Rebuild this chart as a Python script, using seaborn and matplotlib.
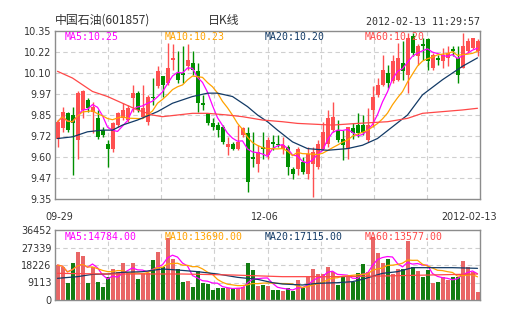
import numpy as np
import pandas as pd
import matplotlib
matplotlib.use("Agg")
import matplotlib.pyplot as plt
import seaborn as sns

# ---------------- data ----------------
opens = [9.71, 9.77, 9.86, 9.85, 9.70, 9.88, 9.94, 9.87, 9.83, 9.76,
         9.68, 9.65, 9.79, 9.83, 9.82, 9.95, 9.98, 9.84, 9.81, 9.96,
         10.02, 10.08, 10.04, 10.18, 10.10, 10.10, 10.14, 10.16, 10.11, 9.92,
         9.86, 9.80, 9.79, 9.78, 9.66, 9.68, 9.65, 9.73, 9.74, 9.60,
         9.56, 9.66, 9.61, 9.69, 9.68, 9.65, 9.66, 9.53, 9.53, 9.57,
         9.50, 9.56, 9.54, 9.65, 9.68, 9.76, 9.76, 9.71, 9.65, 9.77,
         9.79, 9.79, 9.70, 9.88, 9.97, 10.03, 10.10, 10.05, 10.06, 10.16,
         10.09, 10.32, 10.20, 10.27, 10.30, 10.13, 10.19, 10.17, 10.19, 10.24,
         10.19, 10.13, 10.23, 10.25, 10.23]
closes = [9.81, 9.87, 9.76, 9.80, 9.98, 9.99, 9.89, 9.90, 9.72, 9.73,
          9.65, 9.80, 9.86, 9.88, 9.89, 9.98, 9.88, 9.89, 9.96, 9.95,
          10.11, 10.03, 10.13, 10.19, 10.06, 10.09, 10.18, 10.12, 9.92, 9.91,
          9.80, 9.78, 9.76, 9.69, 9.68, 9.65, 9.69, 9.77, 9.45, 9.59,
          9.63, 9.65, 9.70, 9.68, 9.67, 9.67, 9.54, 9.50, 9.65, 9.51,
          9.62, 9.63, 9.68, 9.75, 9.83, 9.84, 9.70, 9.67, 9.78, 9.74,
          9.74, 9.74, 9.79, 9.96, 10.03, 10.12, 10.04, 10.17, 10.19, 10.11,
          10.31, 10.22, 10.26, 10.26, 10.17, 10.21, 10.18, 10.21, 10.22, 10.23,
          10.09, 10.26, 10.29, 10.31, 10.29]
highs = [9.82, 9.90, 9.87, 9.90, 9.99, 10.00, 9.95, 9.93, 9.88, 9.78,
         9.70, 9.81, 9.87, 9.92, 9.91, 10.03, 9.99, 10.03, 9.97, 10.07,
         10.14, 10.08, 10.28, 10.27, 10.23, 10.26, 10.27, 10.23, 10.16, 9.97,
         9.86, 9.83, 9.81, 9.79, 9.72, 9.69, 9.79, 9.78, 9.78, 9.75,
         9.67, 9.75, 9.72, 9.73, 9.73, 9.72, 9.67, 9.54, 9.66, 9.60,
         9.66, 9.66, 9.70, 9.81, 9.88, 9.93, 9.82, 9.76, 9.78, 9.80,
         9.86, 9.85, 9.89, 10.02, 10.07, 10.21, 10.15, 10.21, 10.28, 10.29,
         10.34, 10.34, 10.27, 10.31, 10.31, 10.22, 10.21, 10.25, 10.26, 10.26,
         10.26, 10.34, 10.31, 10.31, 10.30]
lows = [9.66, 9.75, 9.75, 9.49, 9.59, 9.83, 9.87, 9.74, 9.71, 9.72,
        9.54, 9.63, 9.78, 9.82, 9.81, 9.87, 9.87, 9.83, 9.79, 9.91,
        10.01, 9.96, 10.03, 10.12, 10.04, 10.04, 10.12, 10.09, 9.87, 9.88,
        9.79, 9.76, 9.72, 9.68, 9.61, 9.64, 9.64, 9.72, 9.39, 9.54,
        9.51, 9.59, 9.59, 9.64, 9.66, 9.62, 9.49, 9.47, 9.49, 9.50,
        9.47, 9.36, 9.53, 9.64, 9.66, 9.75, 9.69, 9.58, 9.59, 9.71,
        9.72, 9.73, 9.69, 9.78, 9.96, 10.02, 10.01, 10.04, 10.05, 10.06,
        9.98, 10.20, 10.15, 10.18, 10.12, 10.12, 10.15, 10.13, 10.14, 10.20,
        10.04, 10.13, 10.22, 10.24, 10.20]
volumes = [18226, 17011, 8679, 19441, 25169, 23086, 8679, 17358, 9547, 6943,
           12151, 16143, 14754, 19094, 14234, 19441, 10936, 14234, 14234, 20830,
           25169, 17358, 32112, 21177, 15969, 9547, 9894, 6943, 15101, 8679,
           8332, 5207, 6422, 6075, 6075, 6075, 6075, 6943, 19094, 15622,
           7464, 7811, 7464, 5207, 5207, 4687, 6075, 4860, 10415, 6075,
           11803, 16143, 13366, 13366, 17358, 14754, 7811, 12498, 12151, 9547,
           14234, 18747, 14754, 32980, 24648, 19441, 21350, 13539, 15969, 15969,
           30897, 17011, 15101, 12151, 15622, 9026, 9547, 11803, 10415, 11803,
           11803, 20309, 17011, 14754, 4340]

# longer moving averages (need history before the window)
ma20_idx = [0, 3, 6, 9, 11, 13, 16, 20, 23, 27, 30, 32, 35, 38, 40, 42, 44, 47,
            50, 54, 58, 61, 64, 67, 70, 73, 77, 81, 84]
ma20_val = [9.71, 9.72, 9.75, 9.76, 9.76, 9.79, 9.82, 9.87, 9.92, 9.96, 9.98, 9.98,
            9.96, 9.90, 9.85, 9.81, 9.76, 9.69, 9.65, 9.64, 9.65, 9.67, 9.71, 9.78,
            9.85, 9.97, 10.06, 10.14, 10.19]
ma60_idx = [0, 3, 7, 10, 13, 16, 19, 21, 24, 27, 30, 34, 37, 41, 45, 48, 55, 60,
            66, 70, 73, 77, 81, 84]
ma60_val = [10.11, 10.07, 9.99, 9.96, 9.92, 9.88, 9.85, 9.84, 9.85, 9.86, 9.86, 9.85,
            9.84, 9.82, 9.81, 9.80, 9.79, 9.80, 9.81, 9.83, 9.86, 9.87, 9.88, 9.89]
vma20_idx = [0, 4, 7, 10, 13, 17, 21, 24, 28, 32, 36, 40, 43, 45, 49, 52, 56, 59,
             61, 65, 68, 71, 75, 79, 84]
vma20_val = [11283, 12151, 13366, 13539, 14407, 14754, 16143, 15622, 14754, 13539,
             11803, 10762, 9026, 8332, 7811, 8679, 9026, 9547, 10762, 13886, 14754,
             16837, 16837, 16837, 16490]
vma60_idx = [0, 10, 25, 35, 45, 55, 65, 84]
vma60_val = [13886, 13539, 13539, 13018, 12151, 12151, 12498, 13539]

price_ticks = [10.35, 10.225, 10.10, 9.975, 9.85, 9.725, 9.60, 9.475, 9.35]
price_tick_labels = ["10.35", "10.22", "10.10", "9.97", "9.85", "9.72", "9.60", "9.47", "9.35"]
vol_ticks = [0, 9113, 18226, 27339, 36452]
vol_tick_labels = ["0", "9113", "18226", "27339", "36452"]
date_tick_pos = [0.3, 41.5, 82.3]
date_tick_labels = ["09-29", "12-06", "2012-02-13"]

title_text = "中国石油(601857)"
period_text = "日K线"
stamp_text = "2012-02-13 11:29:57"
price_legend = ["MA5:10.25", "MA10:10.23", "MA20:10.20", "MA60:10.20"]
vol_legend = ["MA5:14784.00", "MA10:13690.00", "MA20:17115.00", "MA60:13577.00"]

# ---------------- style ----------------
sns.set_style("white")
plt.rcParams["font.family"] = ["DejaVu Sans"]

RED = "#ff5050"
GREEN = "#008f00"
C_MA5 = "#ff00ff"
C_MA10 = "#ffa200"
C_MA20 = "#123a66"
C_MA60 = "#ff4848"
GRID = "#cfcfcf"
SPINE = "#8c8c8c"
TXT = "#333333"
MONO = "DejaVu Sans Mono"
CJK = ["Noto Sans CJK SC", "DejaVu Sans"]

W, H = 505, 330
fig = plt.figure(figsize=(W / 100, H / 100), dpi=100)
fig.patch.set_facecolor("white")

def fx(px):
    return px / W

def fy(py):
    return 1 - py / H

ax = fig.add_axes([fx(55), fy(199), fx(480) - fx(55), fy(31) - fy(199)])
axv = fig.add_axes([fx(55), fy(300), fx(480) - fx(55), fy(230) - fy(300)])

df = pd.DataFrame({"i": np.arange(len(closes)), "open": opens, "close": closes,
                   "high": highs, "low": lows, "vol": volumes})
df["up"] = np.where(df["close"] >= df["open"], "up", "down")
colors = np.where(df["up"] == "up", RED, GREEN)

n = len(df)
xmin, xmax = -0.5, n - 0.5
vgrid = [xmin + k * (xmax - xmin) / 8 for k in range(1, 8)]

# ---------------- price panel ----------------
for a in (ax, axv):
    for v in vgrid:
        a.axvline(v, color=GRID, lw=0.8, ls=(0, (4, 3)), zorder=0)
for t in price_ticks[1:-1]:
    ax.axhline(t, color=GRID, lw=0.8, ls=(0, (4, 3)), zorder=0)
for t in vol_ticks[1:-1]:
    axv.axhline(t, color=GRID, lw=0.8, ls=(0, (4, 3)), zorder=0)

ax.vlines(df["i"], df["low"], df["high"], colors=colors, lw=1.0, zorder=2)
body_bottom = np.minimum(df["open"], df["close"])
body_h = np.maximum(np.abs(df["close"] - df["open"]), 0.007)
ax.bar(df["i"], body_h, bottom=body_bottom, width=0.8, color=colors, linewidth=0, zorder=3)

df["ma5"] = df["close"].rolling(5, min_periods=1).mean()
df["ma10"] = df["close"].rolling(10, min_periods=1).mean()
sns.lineplot(data=df, x="i", y="ma5", ax=ax, color=C_MA5, lw=0.9, zorder=4)
sns.lineplot(data=df, x="i", y="ma10", ax=ax, color=C_MA10, lw=0.9, zorder=4)
sns.lineplot(x=ma20_idx, y=ma20_val, ax=ax, color=C_MA20, lw=0.9, zorder=4)
sns.lineplot(x=ma60_idx, y=ma60_val, ax=ax, color=C_MA60, lw=0.9, zorder=4)

ax.set_xlim(xmin, xmax)
ax.set_ylim(9.35, 10.35)
ax.set_yticks(price_ticks)
ax.set_yticklabels(price_tick_labels)
ax.set_xticks(date_tick_pos)
ax.set_xticklabels(date_tick_labels)
ax.tick_params(axis="y", length=0, pad=2.5, labelsize=6.9, labelcolor=TXT)
ax.tick_params(axis="x", length=0, pad=9.0, labelsize=6.9, labelcolor=TXT)
ax.set_xlabel("")
ax.set_ylabel("")

# ---------------- volume panel ----------------
sns.barplot(data=df, x="i", y="vol", hue="up", palette={"up": RED, "down": GREEN},
            dodge=False, width=0.8, errorbar=None, linewidth=0, legend=False,
            ax=axv, zorder=2)
df["vma5"] = df["vol"].rolling(5, min_periods=1).mean()
df["vma10"] = df["vol"].rolling(10, min_periods=1).mean()
axv.plot(df["i"], df["vma5"], color=C_MA5, lw=0.9, zorder=4)
axv.plot(df["i"], df["vma10"], color=C_MA10, lw=0.9, zorder=4)
axv.plot(vma20_idx, vma20_val, color=C_MA20, lw=0.9, zorder=4)
axv.plot(vma60_idx, vma60_val, color=C_MA60, lw=0.9, zorder=4)
axv.set_xlim(xmin, xmax)
axv.set_ylim(0, 36452)
axv.set_yticks(vol_ticks)
axv.set_yticklabels(vol_tick_labels)
axv.set_xticks([])
axv.tick_params(axis="y", length=0, pad=2.5, labelsize=6.9, labelcolor=TXT)
axv.set_xlabel("")
axv.set_ylabel("")

for a in (ax, axv):
    for s in a.spines.values():
        s.set_color(SPINE)
        s.set_linewidth(1.0)
        s.set_visible(True)

# ---------------- texts ----------------
fig.text(fx(55), fy(20.5), title_text, family=CJK, fontsize=8.6, color=TXT,
         ha="left", va="center")
fig.text(fx(208), fy(20.5), period_text, family=CJK, fontsize=8.6, color=TXT,
         ha="left", va="center")
fig.text(fx(480), fy(22), stamp_text, family=MONO, fontsize=7.2, color=TXT,
         ha="right", va="center")

leg_colors = [C_MA5, C_MA10, C_MA20, C_MA60]
for k, (t, c) in enumerate(zip(price_legend, leg_colors)):
    fig.text(fx(65 + 100 * k), fy(36.5), t, family=MONO, fontsize=7.1, color=c,
             ha="left", va="center", zorder=10)
for k, (t, c) in enumerate(zip(vol_legend, leg_colors)):
    fig.text(fx(65 + 100 * k), fy(236.7), t, family=MONO, fontsize=7.1, color=c,
             ha="left", va="center", zorder=10)

fig.savefig("out.png", dpi=100, facecolor="white")
